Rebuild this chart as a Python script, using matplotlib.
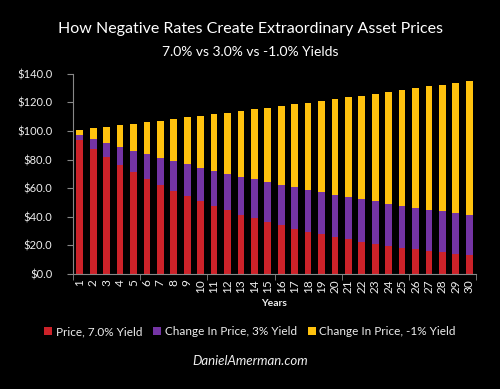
import numpy as np
import matplotlib
matplotlib.use("Agg")
import matplotlib.pyplot as plt
from matplotlib.patches import Patch

# === data ===
years = list(range(1, 31))
price_7 = [93.5, 87.3, 81.6, 76.3, 71.3, 66.6, 62.3, 58.2, 54.4, 50.8,
           47.5, 44.4, 41.5, 38.8, 36.2, 33.9, 31.7, 29.6, 27.7, 25.8,
           24.2, 22.6, 21.1, 19.7, 18.4, 17.2, 16.1, 15.0, 14.1, 13.1]
change_3 = [3.6, 7.0, 9.9, 12.5, 15.0, 17.1, 19.0, 20.7, 22.2, 23.6,
            24.7, 25.7, 26.6, 27.3, 28.0, 28.4, 28.8, 29.1, 29.3, 29.6,
            29.6, 29.6, 29.6, 29.5, 29.4, 29.2, 28.9, 28.7, 28.3, 28.1]
change_m1 = [3.9, 7.7, 11.6, 15.3, 18.9, 22.5, 26.0, 29.5, 32.9, 36.2,
             39.5, 42.7, 45.9, 49.0, 52.1, 55.2, 58.1, 61.1, 64.0, 66.9,
             69.7, 72.5, 75.3, 78.1, 80.8, 83.5, 86.2, 88.8, 91.5, 94.0]
labels = ["Price, 7.0% Yield", "Change In Price, 3% Yield", "Change In Price, -1% Yield"]
colors = ["#CC2229", "#7434A4", "#FFC20E"]
yticks = [0, 20, 40, 60, 80, 100, 120, 140]

plt.rcParams['font.family'] = ['Lato', 'DejaVu Sans']
fig = plt.figure(figsize=(5, 3.89), dpi=100, facecolor="black")
ax = fig.add_axes([0.146, 0.296, 0.806, 0.514], facecolor="black")

x = np.array(years)
w = 0.5
r = np.array(price_7)
p = np.array(change_3)
yv = np.array(change_m1)
ax.bar(x, r, w, color=colors[0], zorder=2)
ax.bar(x, p, w, bottom=r, color=colors[1], zorder=2)
ax.bar(x, yv, w, bottom=r + p, color=colors[2], zorder=2)

ax.set_xlim(0.5, 30.5)
ax.set_ylim(0, 140)
ax.set_yticks(yticks)
ax.set_yticklabels([f"${v:.1f}" for v in yticks], color="#EEEEEE", fontsize=8)
ax.set_xticks(x)
ax.set_xticklabels([str(v) for v in years], rotation=90, color="#EEEEEE", fontsize=8.5)
ax.tick_params(axis="x", length=0, pad=4)
ax.set_xticks([0.5, 5.5, 10.5, 15.5, 20.5, 25.5, 30.5], minor=True)
ax.tick_params(axis="x", which="minor", length=4, color="#888888")
ax.tick_params(axis="y", length=4, color="#888888", pad=11)

for s in ["top", "right"]:
    ax.spines[s].set_visible(False)
for s in ["left", "bottom"]:
    ax.spines[s].set_color("#888888")

ax.set_xlabel("Years", color="#EEEEEE", fontsize=7.5, fontweight="bold", labelpad=4)

fig.text(0.5, 0.925, "How Negative Rates Create Extraordinary Asset Prices",
         ha="center", va="center", color="white", fontsize=11.5)
fig.text(0.5, 0.866, "7.0% vs 3.0% vs -1.0% Yields",
         ha="center", va="center", color="white", fontsize=10)

handles = [Patch(facecolor=c, label=l) for c, l in zip(colors, labels)]
fig.legend(handles=handles, loc="center", bbox_to_anchor=(0.5, 0.147), ncol=3,
           frameon=False, fontsize=8.5, labelcolor="#EEEEEE", handlelength=0.7,
           handleheight=0.7, handletextpad=0.3, columnspacing=0.9)

fig.text(0.5, 0.072, "DanielAmerman.com", ha="center", va="center",
         color="#EEEEEE", fontsize=9.5, style="italic")

fig.savefig("out.png", dpi=100, facecolor="black")
